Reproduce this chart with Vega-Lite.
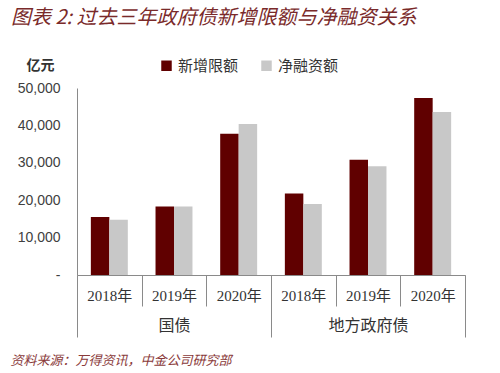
{
  "$schema": "https://vega.github.io/schema/vega-lite/v6.json",
  "width": 388,
  "height": 187,
  "autosize": {"type": "none"},
  "padding": {"left": 77, "top": 88, "right": 35, "bottom": 98},
  "background": "white",
  "title": {
    "text": "图表 2: 过去三年政府债新增限额与净融资关系",
    "anchor": "start",
    "frame": "group",
    "dx": -66,
    "offset": 30,
    "font": "Noto Sans CJK SC",
    "fontSize": 20,
    "fontStyle": "italic",
    "fontWeight": "normal",
    "color": "#7a2a2a"
  },
  "config": {"view": {"stroke": null}},
  "data": {
    "values": [
      {"group": "国债", "year": "2018年", "cat": "国债|2018年", "series": "新增限额", "value": 15500},
      {"group": "国债", "year": "2018年", "cat": "国债|2018年", "series": "净融资额", "value": 14800},
      {"group": "国债", "year": "2019年", "cat": "国债|2019年", "series": "新增限额", "value": 18300},
      {"group": "国债", "year": "2019年", "cat": "国债|2019年", "series": "净融资额", "value": 18300},
      {"group": "国债", "year": "2020年", "cat": "国债|2020年", "series": "新增限额", "value": 37800},
      {"group": "国债", "year": "2020年", "cat": "国债|2020年", "series": "净融资额", "value": 40400},
      {"group": "地方政府债", "year": "2018年", "cat": "地方政府债|2018年", "series": "新增限额", "value": 21800},
      {"group": "地方政府债", "year": "2018年", "cat": "地方政府债|2018年", "series": "净融资额", "value": 19000},
      {"group": "地方政府债", "year": "2019年", "cat": "地方政府债|2019年", "series": "新增限额", "value": 30800},
      {"group": "地方政府债", "year": "2019年", "cat": "地方政府债|2019年", "series": "净融资额", "value": 29100},
      {"group": "地方政府债", "year": "2020年", "cat": "地方政府债|2020年", "series": "新增限额", "value": 47300},
      {"group": "地方政府债", "year": "2020年", "cat": "地方政府债|2020年", "series": "净融资额", "value": 43600}
    ]
  },
  "layer": [
    {
      "mark": {"type": "bar"},
      "encoding": {
        "x": {
          "field": "cat",
          "type": "nominal",
          "sort": null,
          "scale": {"paddingInner": 0, "paddingOuter": 0},
          "axis": {
            "orient": "bottom",
            "title": null,
            "labelExpr": "split(datum.value, '|')[1]",
            "labelAngle": 0,
            "tickBand": "extent",
            "tickSize": 31,
            "tickColor": "#8a8a8a",
            "domainColor": "#8a8a8a",
            "labelPadding": -18,
            "labelFont": "Liberation Serif, Noto Sans CJK SC",
            "labelFontSize": 15,
            "labelColor": "#333333"
          }
        },
        "xOffset": {
          "field": "series",
          "type": "nominal",
          "sort": ["新增限额", "净融资额"],
          "scale": {"paddingInner": 0, "paddingOuter": 0.75}
        },
        "y": {
          "field": "value",
          "type": "quantitative",
          "scale": {"domain": [0, 50000]},
          "axis": {
            "values": [0, 10000, 20000, 30000, 40000, 50000],
            "labelExpr": "datum.value == 0 ? '-  ' : format(datum.value, ',')",
            "grid": false,
            "ticks": false,
            "domainColor": "#8a8a8a",
            "labelFont": "Liberation Sans",
            "labelFontSize": 14,
            "labelColor": "#404040",
            "labelPadding": 17,
            "title": "亿元",
            "titleAngle": 0,
            "titleX": -37,
            "titleY": -23,
            "titleAlign": "center",
            "titleBaseline": "middle",
            "titleFont": "Noto Sans CJK SC",
            "titleFontSize": 14,
            "titleFontWeight": "bold",
            "titleColor": "#333333"
          }
        },
        "color": {
          "field": "series",
          "type": "nominal",
          "sort": ["新增限额", "净融资额"],
          "scale": {"domain": ["新增限额", "净融资额"], "range": ["#600000", "#c8c8c8"]},
          "legend": {
            "orient": "none",
            "legendX": 82,
            "legendY": -30,
            "direction": "horizontal",
            "title": null,
            "symbolType": "square",
            "symbolSize": 110,
            "symbolStrokeWidth": 0,
            "labelFont": "Noto Sans CJK SC",
            "labelFontSize": 15,
            "labelColor": "#333333",
            "columnPadding": 20
          }
        }
      }
    },
    {
      "mark": {"type": "point", "opacity": 0},
      "encoding": {
        "x": {
          "field": "group",
          "type": "nominal",
          "sort": ["国债", "地方政府债"],
          "scale": {"paddingInner": 0, "paddingOuter": 0},
          "axis": {
            "orient": "bottom",
            "domain": false,
            "labelAngle": 0,
            "tickBand": "extent",
            "tickSize": 62,
            "tickColor": "#8a8a8a",
            "labelPadding": -20,
            "labelFont": "Noto Sans CJK SC",
            "labelFontSize": 16,
            "labelColor": "#333333",
            "title": "资料来源：万得资讯，中金公司研究部",
            "titleX": -67,
            "titleY": 85,
            "titleAlign": "left",
            "titleAnchor": "start",
            "titleBaseline": "middle",
            "titleFont": "Noto Sans CJK SC",
            "titleFontSize": 13,
            "titleFontStyle": "italic",
            "titleFontWeight": "normal",
            "titleColor": "#8a3a3a"
          }
        }
      }
    }
  ],
  "resolve": {"scale": {"x": "independent"}, "axis": {"x": "independent"}}
}
